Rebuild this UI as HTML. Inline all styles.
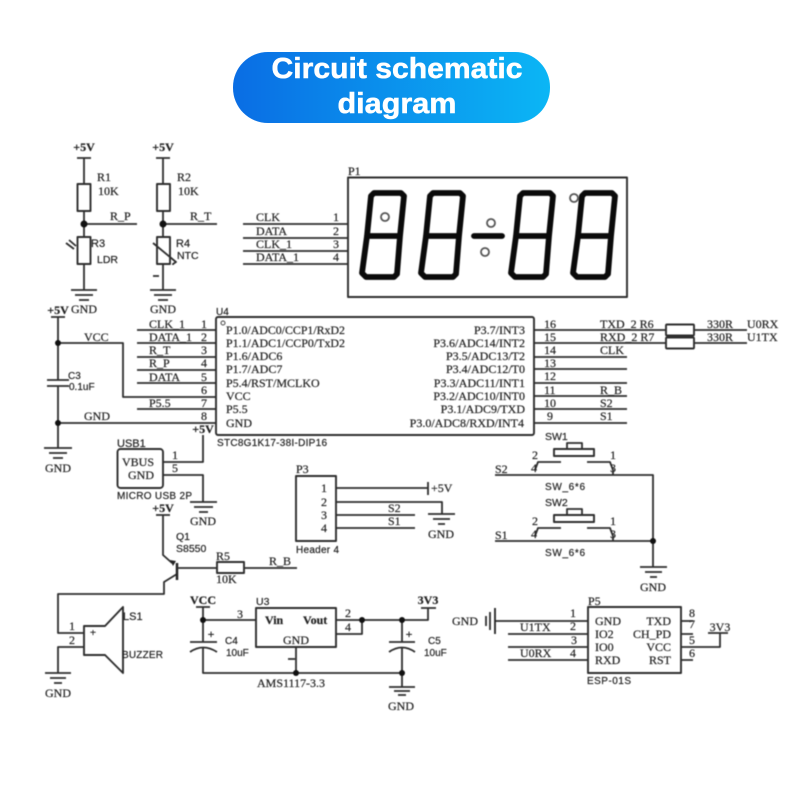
<!DOCTYPE html>
<html>
<head>
<meta charset="utf-8">
<style>
html,body{margin:0;padding:0;background:#fff;width:800px;height:800px;overflow:hidden}
svg{display:block}
#sch{filter:blur(.45px)}
.w{fill:none;stroke:#2e2e2e;stroke-width:1.8;stroke-linejoin:round}
.b{fill:none;stroke:#2e2e2e;stroke-width:1.9;stroke-linejoin:round}
.d{fill:none;stroke:#0a0a0a;stroke-width:5.800;stroke-linejoin:round}
text{fill:#222;font-family:"Liberation Serif",serif;font-size:12px;stroke:#222;stroke-width:.2}
.s{font-family:"Liberation Sans",sans-serif;font-size:10px}
.e{text-anchor:end}
.m{text-anchor:middle}
.t{fill:#fff;stroke:#fff;stroke-width:.5;font-family:"Liberation Sans",sans-serif;font-weight:bold;font-size:29px;text-anchor:middle}
</style>
</head>
<body>
<svg width="800" height="800" viewBox="0 0 800 800" xmlns="http://www.w3.org/2000/svg">
<defs>
<linearGradient id="g" x1="0" x2="1" y1="0" y2="0"><stop offset="0" stop-color="#0a6de4"/><stop offset="1" stop-color="#0bb6f5"/></linearGradient>
</defs>
<rect x="233" y="52" width="317" height="71" rx="35" fill="url(#g)"/>
<text class="t" x="397" y="78" textLength="251" lengthAdjust="spacingAndGlyphs">Circuit schematic</text>
<text class="t" x="397" y="113" textLength="119" lengthAdjust="spacingAndGlyphs">diagram</text>

<g id="sch">
<!-- R1 / R3 -->
<path class="w" d="M77,158H91M84,158V184M84,211V237M84,224H137M84,264V290M71,290H97M75,295H93M79,300H89"/>
<rect class="b" x="77.500" y="184" width="13" height="27"/>
<rect class="b" x="77.500" y="237" width="13" height="27"/>
<path class="w" d="M66,243L74,249M69,240L76,246"/>
<circle cx="84" cy="224" r="3.500" fill="#111"/>
<text x="84" y="151" class="m" font-weight="bold">+5V</text>
<text x="97" y="181">R1</text><text x="98" y="195">10K</text>
<text x="110" y="220">R_P</text>
<text x="91" y="247" class="s" style="font-size:11px">R3</text>
<text x="97" y="263" class="s" style="font-size:10.500px">LDR</text>
<!-- R2 / R4 -->
<path class="w" d="M156,158H170M163,158V184M163,211V237M163,224H217M163,264V290M150,290H176M154,295H172M158,300H168"/>
<rect class="b" x="157" y="184" width="13" height="27"/>
<rect class="b" x="157" y="237" width="13" height="27"/>
<path class="w" d="M153,243L176,262L173,264V265M153,276H159"/>
<circle cx="163" cy="224" r="3.500" fill="#111"/>
<text x="163" y="151" class="m" font-weight="bold">+5V</text>
<text x="177" y="181">R2</text><text x="178" y="195">10K</text>
<text x="190" y="220">R_T</text>
<text x="176" y="247" class="s" style="font-size:11px">R4</text>
<text x="177" y="259" class="s" style="font-size:10.500px">NTC</text>
<text x="84" y="313" class="m">GND</text>
<text x="163" y="313" class="m">GND</text>
<!-- display pins -->
<path class="w" d="M243,224H348M243,238H348M243,251H348M243,264H348"/>
<text x="256" y="221">CLK</text><text x="256" y="235">DATA</text><text x="256" y="248">CLK_1</text><text x="256" y="261">DATA_1</text>
<text x="336" y="221" class="m">1</text><text x="336" y="235" class="m">2</text><text x="336" y="248" class="m">3</text><text x="336" y="261" class="m">4</text>
<!-- P1 -->
<rect class="b" x="348" y="177.500" width="279" height="119.500"/>
<text x="348" y="175">P1</text>
<path class="d" d="M374,193H401L404,196L400,236L397,274L394,277H366L362,273L367,236L371,196ZM367,236H400"/>
<path class="d" transform="translate(59,0)" d="M374,193H401L404,196L400,236L397,274L394,277H366L362,273L367,236L371,196ZM367,236H400"/>
<path class="d" transform="translate(149,0)" d="M374,193H401L404,196L400,236L397,274L394,277H366L362,273L367,236L371,196ZM367,236H400"/>
<path class="d" transform="translate(211,0)" d="M374,193H401L404,196L400,236L397,274L394,277H366L362,273L367,236L371,196ZM367,236H400"/>
<path class="d" style="stroke-linecap:round" d="M474,236H502"/>
<g fill="none" stroke="#555" stroke-width="1.800">
<circle cx="385" cy="217" r="4"/><circle cx="491" cy="223" r="4"/><circle cx="485" cy="252" r="4"/><circle cx="574" cy="198" r="4"/>
</g>
<!-- U4 -->
<rect class="b" x="216" y="317" width="318" height="118" rx="2"/>
<circle cx="223" cy="323" r="2" fill="none" stroke="#444"/>
<text x="216" y="315" class="s">U4</text>
<path class="w" d="M137,330H216M137,343H216M137,357H216M137,370H216M137,383H216M137,409H216M534,357H627M534,369H627M534,383H627M534,396H627M534,409H627M534,423H627"/>
<path class="w" d="M58,317V380M47,380H69M47,386H69M58,386V448M58,343H123V397H216M58,423H216M44,448H72M49,453H67M53,458H63M51,317H65"/>
<circle cx="58" cy="343" r="3" fill="#111"/><circle cx="58" cy="423" r="3" fill="#111"/>
<text x="58" y="314" class="m" font-weight="bold">+5V</text>
<text x="84" y="341">VCC</text><text x="84" y="420">GND</text>
<text x="68" y="379" class="s">C3</text><text x="69" y="390" class="s">0.1uF</text>
<text x="58" y="472" class="m">GND</text>
<text x="149" y="328">CLK_1</text><text x="149" y="341">DATA_1</text><text x="149" y="354">R_T</text><text x="149" y="367">R_P</text><text x="149" y="381">DATA</text><text x="149" y="407">P5.5</text>
<text x="204" y="328" class="m">1</text><text x="204" y="341" class="m">2</text><text x="204" y="354" class="m">3</text><text x="204" y="367" class="m">4</text><text x="204" y="381" class="m">5</text><text x="204" y="394" class="m">6</text><text x="204" y="407" class="m">7</text><text x="204" y="420" class="m">8</text>
<text x="226" y="334" textLength="119" lengthAdjust="spacingAndGlyphs">P1.0/ADC0/CCP1/RxD2</text>
<text x="226" y="347" textLength="119" lengthAdjust="spacingAndGlyphs">P1.1/ADC1/CCP0/TxD2</text>
<text x="226" y="360">P1.6/ADC6</text><text x="226" y="373">P1.7/ADC7</text>
<text x="226" y="387">P5.4/RST/MCLKO</text><text x="226" y="400">VCC</text><text x="226" y="413">P5.5</text><text x="226" y="427">GND</text>
<text x="525" y="334" class="e">P3.7/INT3</text>
<text x="525" y="347" class="e">P3.6/ADC14/INT2</text>
<text x="525" y="360" class="e">P3.5/ADC13/T2</text>
<text x="525" y="373" class="e">P3.4/ADC12/T0</text>
<text x="525" y="387" class="e">P3.3/ADC11/INT1</text>
<text x="525" y="400" class="e">P3.2/ADC10/INT0</text>
<text x="525" y="413" class="e">P3.1/ADC9/TXD</text>
<text x="524" y="427" class="e">P3.0/ADC8/RXD/INT4</text>
<text x="217" y="446" class="s" textLength="110">STC8G1K17-38I-DIP16</text>
<text x="544" y="328">16</text><text x="544" y="341">15</text><text x="544" y="354">14</text><text x="544" y="367">13</text><text x="544" y="380">12</text><text x="544" y="394">11</text><text x="544" y="407">10</text><text x="547" y="420">9</text>
<text x="600" y="328">TXD_2 R6</text><text x="600" y="341">RXD_2 R7</text><text x="600" y="354">CLK</text><text x="600" y="394">R_B</text><text x="600" y="407">S2</text><text x="600" y="420">S1</text>
<path class="w" d="M534,330H666M534,343H666M694,330H747M694,343H747"/>
<rect class="b" x="666" y="324.500" width="28" height="11" rx="1"/><rect class="b" x="666" y="337.500" width="28" height="11" rx="1"/>
<text x="707" y="328">330R</text><text x="707" y="341">330R</text>
<text x="747" y="328">U0RX</text><text x="747" y="341">U1TX</text>
<!-- USB -->
<rect class="b" x="117.500" y="449" width="45.500" height="39" rx="3"/>
<path class="w" d="M163,462H203V435M163,475H203V502M190,502H217M194,507H213M199,512H208"/>
<text x="117" y="447" class="s" style="font-size:11px">USB1</text>
<text x="138" y="466" class="m">VBUS</text><text x="141" y="479" class="m">GND</text>
<text x="175" y="459" class="m">1</text><text x="175" y="472" class="m">5</text>
<text x="203" y="433" class="m" font-weight="bold">+5V</text>
<text x="117" y="499" class="s" textLength="75">MICRO USB 2P</text>
<text x="203" y="525" class="m">GND</text>
<!-- P3 -->
<rect class="b" x="296" y="476" width="40" height="65"/>
<path class="w" d="M336,488H428M428,482V495M336,502H442V514M336,515H415M336,528H415M428,514H455M433,519H450M438,524H445"/>
<text x="296" y="473">P3</text>
<text x="324" y="492" class="m">1</text><text x="324" y="506" class="m">2</text><text x="324" y="519" class="m">3</text><text x="324" y="532" class="m">4</text>
<text x="431" y="492">+5V</text>
<text x="388" y="512">S2</text><text x="388" y="525">S1</text>
<text x="441" y="538" class="m">GND</text>
<text x="296" y="553" class="s" textLength="43">Header 4</text>
<!-- switches -->
<rect class="b" x="554" y="449" width="40" height="7"/><path class="w" d="M567,449V443H582V449"/>
<rect class="b" x="554" y="515" width="40" height="7"/><path class="w" d="M567,515V509H582V515"/>
<path class="w" d="M533,475H653V567M535,470L538,462H561M587,462H610L613,470V475M495,475H533M495,541H653M535,536L538,528H561M587,528H610L613,536V541M640,567H667M645,572H662M650,577H657"/>
<circle cx="653" cy="541" r="3" fill="#111"/>
<text x="545" y="440" class="s" style="font-size:10.500px">SW1</text>
<text x="545" y="506" class="s" style="font-size:10.500px">SW2</text>
<text x="545" y="490" class="s" textLength="40">SW_6*6</text>
<text x="545" y="556" class="s" textLength="40">SW_6*6</text>
<text x="495" y="473">S2</text><text x="495" y="539">S1</text>
<text x="535" y="459" class="m">2</text><text x="534" y="472" class="m">4</text><text x="613" y="459" class="m">1</text><text x="613" y="472" class="m">3</text>
<text x="535" y="525" class="m">2</text><text x="534" y="538" class="m">4</text><text x="613" y="525" class="m">1</text><text x="613" y="538" class="m">3</text>
<text x="653" y="591" class="m">GND</text>
<!-- Q1 -->
<text x="163" y="512" class="m" font-weight="bold">+5V</text>
<path class="w" d="M156,515H170M163,515V555L172,563M177,574L164,582V594H58V633H84M84,647H58V673M45,673H71M50,678H66M54,683H62"/>
<path d="M177,563V580" stroke="#222" stroke-width="2.500" fill="none"/>
<path d="M170,560L176,561L173,566Z" fill="#222"/>
<path class="w" d="M177,568H217M244,568H297"/>
<rect class="b" x="217" y="562" width="27" height="11"/>
<text x="176" y="540" class="s" style="font-size:10.500px">Q1</text><text x="176" y="552" class="s" style="font-size:10.500px">S8550</text>
<text x="216" y="560">R5</text><text x="216" y="583">10K</text>
<text x="269" y="565">R_B</text>
<!-- buzzer -->
<path class="b" d="M84,626H105L123,607V673L105,655H84Z"/>
<text x="93" y="636" class="m" style="font-size:11px;font-weight:bold">+</text>
<text x="123" y="620" class="s" style="font-size:11px">LS1</text>
<text x="122" y="658" class="s" textLength="41">BUZZER</text>
<text x="72" y="630" class="m">1</text><text x="72" y="644" class="m">2</text>
<text x="58" y="697" class="m">GND</text>
<!-- U3 -->
<rect class="b" x="256" y="608" width="80" height="39"/>
<path class="w" d="M196,607H210M203,607V642M203,620H256M190,642H217M190,652Q203,643 217,652M203,647V673H402M296,647V673M288,659H295M336,620H428V608M421,608H436M336,634H362V620M402,620V642M389,642H415M389,652Q402,643 415,652M402,647V687M389,687H415M394,691H410M398,695H406"/>
<circle cx="203" cy="620" r="3" fill="#111"/><circle cx="362" cy="620" r="3" fill="#111"/><circle cx="402" cy="620" r="3" fill="#111"/><circle cx="296" cy="673" r="3" fill="#111"/><circle cx="402" cy="673" r="3" fill="#111"/>
<text x="203" y="604" class="m" font-weight="bold">VCC</text>
<text x="256" y="605" class="s" style="font-size:10.500px">U3</text>
<text x="240" y="618" class="m">3</text>
<text x="265" y="624" font-weight="bold">Vin</text><text x="303" y="624" font-weight="bold">Vout</text>
<text x="296" y="644" class="m">GND</text>
<text x="348" y="617" class="m">2</text><text x="348" y="631" class="m">4</text>
<text x="211" y="638" class="m" style="font-weight:bold">+</text><text x="409" y="638" class="m" style="font-weight:bold">+</text>
<text x="225" y="644" class="s">C4</text><text x="226" y="656" class="s">10uF</text>
<text x="428" y="644" class="s">C5</text><text x="424" y="656" class="s">10uF</text>
<text x="257" y="687" textLength="68">AMS1117-3.3</text>
<text x="428" y="604" class="m" font-weight="bold">3V3</text>
<text x="401" y="710" class="m">GND</text>
<!-- P5 -->
<rect class="b" x="588" y="607" width="93" height="66"/>
<path class="w" d="M495,621H588M508,634H588M508,647H588M508,660H588M681,621H693M681,634H693M681,647H720V633M708,633H728M681,660H693M490,612V630M486,616V626"/>
<path d="M495,608V634" stroke="#222" stroke-width="1.800"/>
<text x="452" y="625">GND</text>
<text x="520" y="631">U1TX</text><text x="520" y="657">U0RX</text>
<text x="573" y="617" class="m">1</text><text x="573" y="630" class="m">2</text><text x="574" y="644" class="m">3</text><text x="573" y="657" class="m">4</text>
<text x="595" y="625">GND</text><text x="595" y="638">IO2</text><text x="595" y="651">IO0</text><text x="595" y="664">RXD</text>
<text x="671" y="625" class="e">TXD</text><text x="671" y="638" class="e">CH_PD</text><text x="671" y="651" class="e">VCC</text><text x="671" y="664" class="e">RST</text>
<text x="692" y="617" class="m">8</text><text x="692" y="628" class="m">7</text><text x="692" y="644" class="m">5</text><text x="692" y="657" class="m">6</text>
<text x="720" y="631" class="m">3V3</text>
<text x="588" y="605">P5</text>
<text x="587" y="684" class="s" textLength="44">ESP-01S</text>
</g>
</svg>
</body>
</html>
